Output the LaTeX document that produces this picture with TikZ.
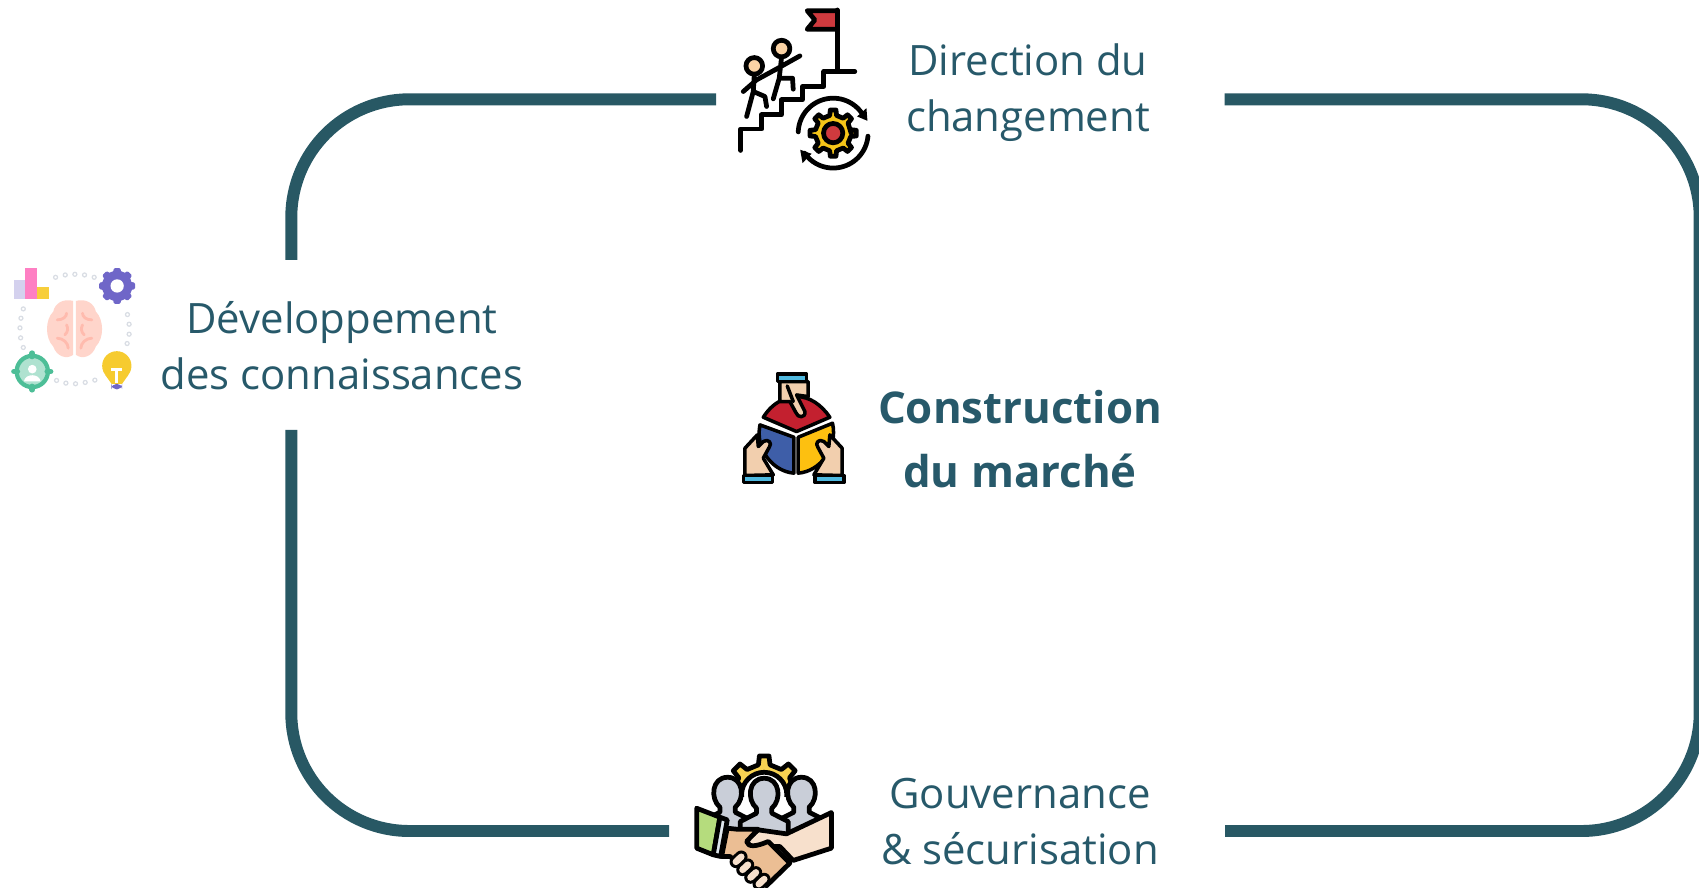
\documentclass[tikz,border=0pt]{standalone}
\usepackage{fontspec}
\setmainfont{Open Sans}
\definecolor{teal}{HTML}{27596A}
\definecolor{frameteal}{HTML}{285864}
\definecolor{flagred}{HTML}{CF3A3E}
\definecolor{gearyellow}{HTML}{F5C518}
\definecolor{softpurple}{HTML}{6F66C8}
\definecolor{softpink}{HTML}{FE7FC3}
\definecolor{brainpink}{HTML}{FFD5CB}
\definecolor{brainfold}{HTML}{FFBBAE}
\definecolor{softgreen}{HTML}{4DBE97}
\definecolor{headskin}{HTML}{FBD3A5}
\definecolor{skin}{HTML}{F2CFAE}
\definecolor{cuffblue}{HTML}{4FB8DE}
\definecolor{piered}{HTML}{C3202F}
\definecolor{pieblue}{HTML}{3E5EA8}
\definecolor{pieyellow}{HTML}{FDC010}
\definecolor{peoplegrey}{HTML}{C9CED8}
\definecolor{sleevegreen}{HTML}{B5DC7D}
\definecolor{cuffgrey}{HTML}{DDE5EC}
\definecolor{armcream}{HTML}{F7E0CC}
\definecolor{handtan}{HTML}{EBBE94}
\tikzset{
  frameline/.style={draw=frameteal,line width=3.4pt,rounded corners=1.18cm},
  labeltext/.style={text=teal,align=center,font=\fontsize{11.9}{15.9}\selectfont},
  boldtext/.style={text=teal,align=center,font=\fontsize{12.45}{18.2}\selectfont\bfseries},
  inked/.style={draw=black,line width=1.35pt,line join=round,line cap=round},
  thininked/.style={inked,line width=1pt},
  zoomed/.style={x=0.003333cm,y=-0.003333cm},
  softdot/.style={draw=peoplegrey!70,fill=white,line width=0.35pt}
}
% gear outline: inner radius, outer radius
\newcommand{\gearpath}[2]{(0:#1) \foreach \a in {0,45,...,315} {
    -- (\a-11:#1) -- (\a-7:#2) -- (\a+7:#2) -- (\a+11:#1)} -- cycle}
% one person, head and shoulders
\newcommand{\personpath}{(-23,40) .. controls (-53,15) and (-48,-50) .. (0,-50)
    .. controls (48,-50) and (53,15) .. (23,40) -- (23,55) -- (72,80) -- (72,130)
    -- (-72,130) -- (-72,80) -- (-23,55) -- cycle}
\begin{document}
\begin{tikzpicture}[x=0.01cm,y=-0.01cm]
  \useasboundingbox (0,0) rectangle (1699,888);
  % labels
  \node (direction) [labeltext] at (1028,93) {Direction du\\changement};
  \node (gouvernance) [labeltext] at (1020,822) {Gouvernance\\\& sécurisation};
  \node (developpement) [labeltext] at (342,346) {Développement\\des connaissances};
  \node (construction) [boldtext] at (1020,439) {Construction\\du marché};
  % frame
  \coordinate (lefttop) at (291.3,260);
  \coordinate (leftbottom) at (291.3,430);
  \coordinate (topleft) at (716,99.3);
  \coordinate (topright) at (1224.5,99.3);
  \coordinate (bottomleft) at (669,831);
  \coordinate (bottomright) at (1225,831);
  \coordinate (rightside) at (1699.7,465);
  \draw[frameline] (lefttop) |- (topleft);
  \draw[frameline] (leftbottom) |- (bottomleft);
  \draw[frameline] (topright) -| (rightside) |- (bottomright);
  % stairs icon
  \begin{scope}[shift={(720,0)},zoomed]
    \draw[inked,fill=flagred] (352,32) -- (262,32) -- (285,60) -- (262,88) -- (352,88);
    \draw[inked] (352,30) -- (352,215);
    \draw[inked] (62,452) -- (62,388) -- (125,388) -- (125,345) -- (185,345) -- (185,300)
      -- (248,300) -- (248,260) -- (312,260) -- (312,215) -- (405,215);
    \draw[inked,fill=headskin] (103,198) circle (25);
    \draw[inked,fill=headskin] (185,146) circle (25);
    \draw[inked] (103,225) -- (100,275) -- (80,350) (100,275) -- (135,290) -- (140,320)
      (70,275) -- (110,240) -- (165,210);
    \draw[inked] (185,172) -- (178,235) -- (160,297) (178,235) -- (218,235) -- (220,268)
      (165,210) -- (240,168);
    \draw[inked,fill=gearyellow,shift={(340,400)}] \gearpath{54}{70};
    \draw[inked,fill=flagred] (340,400) circle (29);
    \draw[inked] plot[domain=-178:-32,samples=30] ({340+105*cos(\x)},{400+105*sin(\x)});
    \draw[inked] plot[domain=5:145,samples=30] ({340+105*cos(\x)},{400+105*sin(\x)});
    \fill[black] (443,363) -- (412,350) -- (440,325) -- cycle;
    \fill[black] (241,450) -- (275,462) -- (248,490) -- cycle;
  \end{scope}
  % brain icon
  \begin{scope}[shift={(0,250)},zoomed]
    \fill[softpurple!30] (42,90) rectangle (76,148);
    \fill[softpink] (76,55) rectangle (112,148);
    \fill[gearyellow!85] (112,112) rectangle (148,148);
    \fill[softpurple,draw=softpurple,line width=0.8pt,line join=round,shift={(352,108)}] \gearpath{42}{50};
    \fill[white] (352,108) circle (20);
    \foreach \dx/\dy in {167/82,196/75,225/73,254/75,283/82,70/177,63/205,60/234,62/264,70/293,
        383/194,388/223,388/253,382/281,170/392,198/400,227/402,256/398,285/391}
      \draw[softdot] (\dx,\dy) circle (6);
    \fill[brainpink] (220,153) .. controls (190,145) and (165,160) .. (160,185)
      .. controls (135,210) and (135,265) .. (160,290) .. controls (170,320) and (200,330) .. (220,315) -- cycle;
    \fill[brainpink] (228,153) .. controls (258,145) and (283,160) .. (288,185)
      .. controls (313,210) and (313,265) .. (288,290) .. controls (278,320) and (248,330) .. (228,315) -- cycle;
    \draw[brainfold,line width=0.8pt,line cap=round] (172,210) .. controls (190,210) and (200,200) .. (200,190)
      (200,225) .. controls (205,235) and (205,245) .. (195,255) (172,265) .. controls (190,265) and (205,280) .. (205,295)
      (276,210) .. controls (258,210) and (248,200) .. (248,190) (248,225) .. controls (243,235) and (243,245) .. (253,255)
      (276,265) .. controls (258,265) and (243,280) .. (243,295);
    \draw[softgreen,fill=softgreen!45,line width=1.2pt] (97,365) circle (47);
    \draw[softgreen,line width=1.6pt,line cap=round] (97,310) -- (97,320) (97,410) -- (97,420) (42,365) -- (52,365) (142,365) -- (152,365);
    \fill[white] (97,358) circle (13) (72,395) .. controls (75,370) and (119,370) .. (122,395) -- cycle;
    \fill[gearyellow!90!white] (351,348) circle (44);
    \fill[gearyellow!90!white] (316,375) -- (335,402) -- (367,402) -- (386,375) -- cycle;
    \draw[white,line width=0.9pt] (335,358) -- (367,358) (351,358) -- (351,400);
    \fill[softpurple,rounded corners=1.5pt] (335,402) rectangle (367,419);
  \end{scope}
  % market icon
  \begin{scope}[shift={(730,360)},zoomed]
    \draw[thininked,fill=piered] (100,172) .. controls (130,125) and (170,110) .. (200,110)
      .. controls (240,110) and (275,135) .. (300,172) -- (200,215) -- cycle;
    \draw[thininked,fill=pieblue] (90,195) -- (192,232) -- (192,340) .. controls (130,335) and (75,270) .. cycle;
    \draw[thininked,fill=pieyellow] (308,190) -- (205,232) -- (205,340) .. controls (270,335) and (325,265) .. cycle;
    \draw[thininked,fill=skin] (150,65) -- (235,65) -- (235,110) -- (200,105) -- (225,155)
      .. controls (228,175) and (203,175) .. (198,158) -- (180,125) -- (150,125) -- cycle;
    \draw[thininked] (172,78) -- (190,125);
    \draw[thininked,fill=skin] (45,347) -- (45,265) -- (82,225) -- (85,260) -- (100,245)
      .. controls (115,235) and (128,250) .. (118,262) -- (100,295) -- (130,345) -- cycle;
    \draw[thininked,fill=skin] (337,347) -- (337,265) -- (300,225) -- (297,260) -- (282,245)
      .. controls (267,235) and (254,250) .. (264,262) -- (282,295) -- (252,345) -- cycle;
    \draw[thininked,fill=cuffblue] (142,42) rectangle (230,65);
    \draw[thininked,fill=cuffblue] (40,347) rectangle (128,368);
    \draw[thininked,fill=cuffblue] (255,347) rectangle (342,368);
  \end{scope}
  % handshake icon
  \begin{scope}[shift={(680,740)},zoomed]
    \begin{scope}
      \clip (100,30) rectangle (400,170);
      \draw[inked,fill=gearyellow!75!white,shift={(253,165)}] \gearpath{92}{118};
      \draw[inked,fill=white] (253,165) circle (68);
    \end{scope}
    \draw[inked,fill=peoplegrey,shift={(143,162)}] \personpath;
    \draw[inked,fill=peoplegrey,shift={(365,162)}] \personpath;
    \draw[inked,fill=peoplegrey,shift={(253,165)}] \personpath;
    \draw[inked,fill=sleevegreen] (50,205) -- (120,232) -- (100,345) -- (50,325) -- cycle;
    \draw[inked,fill=cuffgrey] (120,232) -- (142,240) -- (122,350) -- (100,345) -- cycle;
    \draw[inked,fill=armcream] (455,218) -- (455,325) -- (340,362) -- (300,320) -- (210,320)
      -- (200,300) -- (235,270) -- (320,282) -- cycle;
    \draw[inked,fill=handtan] (142,265) -- (170,268) -- (235,268) -- (200,305)
      .. controls (205,322) and (225,322) .. (265,305) -- (330,370) -- (260,438) -- (150,350) -- (125,350) -- cycle;
    \foreach \fx/\fy in {178/358,198/382,222/405,247/425}{
      \draw[black,line width=3.6pt,line cap=round] (\fx-10,\fy+8) -- (\fx+6,\fy-7);
      \draw[armcream,line width=1.9pt,line cap=round] (\fx-10,\fy+8) -- (\fx+6,\fy-7);
    }
  \end{scope}
\end{tikzpicture}
\end{document}
